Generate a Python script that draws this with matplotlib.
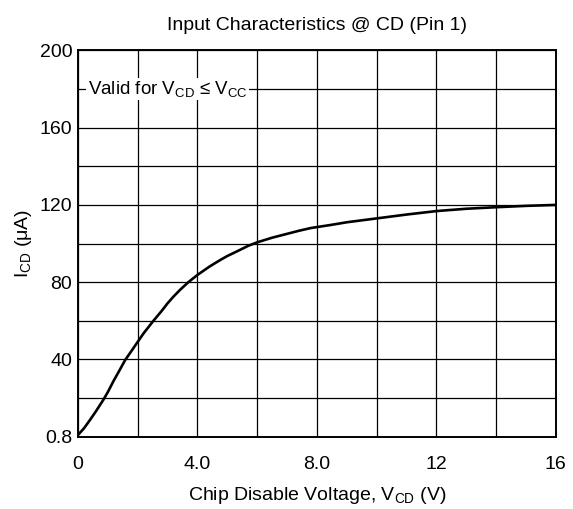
import numpy as np
import matplotlib
matplotlib.use("Agg")
import matplotlib.pyplot as plt

plt.rcParams['font.family'] = ['Liberation Sans', 'DejaVu Sans']
plt.rcParams['mathtext.fontset'] = 'custom'
plt.rcParams['mathtext.rm'] = 'Liberation Sans'
plt.rcParams['mathtext.it'] = 'Liberation Sans'

# curve
vcd = [0, 0.2, 0.4, 0.6, 0.85, 1.0, 1.2, 1.4, 1.58, 1.8, 2.0, 2.2, 2.53, 2.8, 3.0,
       3.2, 3.42, 3.7, 4.0, 4.4, 4.77, 5.0, 5.4, 5.7, 6.0, 6.5, 7.0, 7.4, 7.79,
       8.5, 9.0, 10.0, 11.0, 12.0, 13.0, 14.0, 15.0, 16.0]
icd = [0.8, 4.2, 8.5, 13, 19, 23, 29, 34.5, 39.6, 44.5, 49, 53.5, 60, 65, 69,
       72.5, 76, 80, 83.7, 88, 91.5, 93.5, 96.5, 98.8, 100.6, 103, 105, 106.6, 108,
       109.7, 111, 113, 115, 116.8, 118, 118.8, 119.5, 120]

xticks = [0, 4, 8, 12, 16]
xticklabels = ["0", "4.0", "8.0", "12", "16"]
yticks = [0, 40, 80, 120, 160, 200]
yticklabels = ["0.8", "40", "80", "120", "160", "200"]

fig = plt.figure(figsize=(5.73, 5.09), dpi=100)
ax = fig.add_axes([0.136, 0.1424, 0.834, 0.7584])

ax.plot(vcd, icd, color="black", lw=1.9, zorder=3, solid_capstyle="butt",
        solid_joinstyle="round")

ax.set_xlim(0, 16)
ax.set_ylim(0, 200)
ax.set_xticks(np.arange(0, 17, 2), minor=True)
ax.set_yticks(np.arange(0, 201, 20), minor=True)
ax.set_xticks(xticks)
ax.set_xticklabels(xticklabels)
ax.set_yticks(yticks)
ax.set_yticklabels(yticklabels)
ax.grid(True, which="both", color="black", lw=0.9)
ax.tick_params(which="both", length=0, labelsize=14)
ax.tick_params(axis="x", pad=14)
ax.tick_params(axis="y", pad=4)
for s in ax.spines.values():
    s.set_linewidth(1.4)

ax.text(0.33, 180, r"Valid for V$_{\rm CD}$ ≤ V$_{\rm CC}$", fontsize=13.5,
        va="center", ha="left", zorder=4,
        bbox=dict(facecolor="white", edgecolor="none", pad=1))

ax.set_title("Input Characteristics @ CD (Pin 1)", fontsize=14, pad=15)
ax.set_xlabel(r"Chip Disable Voltage, V$_{\rm CD}$ (V)", fontsize=14, labelpad=9)
ax.set_ylabel(r"I$_{\rm CD}$ ($\mu$A)", fontsize=14, labelpad=4)

fig.savefig("out.png", dpi=100)
